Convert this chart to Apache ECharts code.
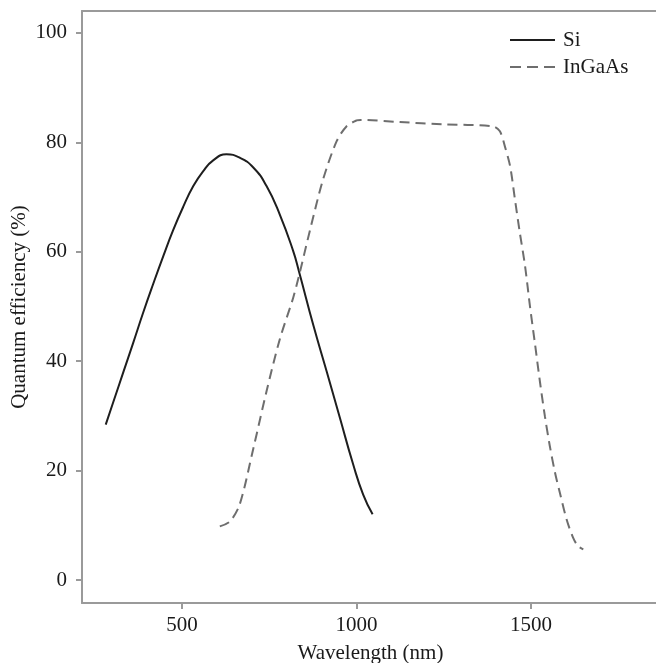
<!DOCTYPE html>
<html>
<head>
<meta charset="utf-8">
<script src="https://cdn.jsdelivr.net/npm/echarts@6/dist/echarts.min.js"></script>
<style>html,body{margin:0;padding:0;background:#fff;}#c{width:656px;height:663px;}</style>
</head>
<body>
<div id="c"></div>
<script>
var siWavelength = [281, 302, 331, 360, 388, 417, 446, 474, 503, 532, 560, 589, 627, 665, 704, 742, 780, 818, 835, 876, 914, 952, 990, 1019, 1046];
var siQE = [28.4, 32.4, 37.9, 43.4, 48.8, 54.1, 59.2, 63.9, 68.2, 72.0, 74.7, 76.7, 77.8, 77.2, 75.4, 72.0, 66.8, 60.2, 56.4, 46.6, 38.2, 29.7, 21.2, 15.6, 12.0];
var ingaasWavelength = [608, 637, 665, 704, 742, 780, 818, 835, 866, 904, 943, 971, 1000, 1012, 1124, 1248, 1392, 1411, 1425, 1440, 1454, 1468, 1483, 1497, 1511, 1526, 1540, 1554, 1569, 1583, 1602, 1621, 1635, 1650];
var ingaasQE = [9.8, 10.7, 13.8, 24.0, 34.5, 44.0, 51.5, 55.6, 63.8, 73.2, 80.2, 82.9, 84.0, 84.1, 83.7, 83.3, 82.9, 82.0, 79.3, 75.7, 69.6, 63.5, 57.4, 50.1, 43.4, 36.1, 29.9, 24.5, 19.6, 15.9, 11.1, 7.7, 6.2, 5.6];
var xTicks = [500, 1000, 1500];
var yTicks = [0, 20, 40, 60, 80, 100];

function pairs(xs, ys) { return xs.map(function (x, i) { return [x, ys[i]]; }); }

var FONT = 'Liberation Serif';
var AXIS = '#9a9a9a';
var TEXT = '#1a1a1a';
var chart = echarts.init(document.getElementById('c'), null, { renderer: 'canvas' });
chart.setOption({
  animation: false,
  backgroundColor: '#ffffff',
  textStyle: { fontFamily: FONT },
  grid: { left: 82, right: -3, top: 11, bottom: 60, show: false, containLabel: false, outerBoundsMode: 'none' },
  legend: {
    orient: 'vertical', left: 510, top: 29.5, padding: 0,
    itemWidth: 45, itemHeight: 2, itemGap: 6,
    textStyle: { fontFamily: FONT, fontSize: 21, color: TEXT, lineHeight: 21, padding: [0, 0, 0, 3] },
    data: [
      { name: 'Si', icon: 'path://M0,0H45V2H0Z' },
      { name: 'InGaAs', icon: 'path://M0,0H11V2H0Z M17,0H28V2H17Z M34,0H45V2H34Z' }
    ]
  },
  xAxis: [{
    type: 'value', min: 213, max: 1867,
    name: 'Wavelength (nm)', nameLocation: 'middle', nameGap: 40, nameMoveOverlap: false,
    nameTextStyle: { fontFamily: FONT, fontSize: 21, color: TEXT },
    axisLine: { show: true, onZero: false, lineStyle: { color: AXIS, width: 2 } },
    axisTick: { show: true, length: 6, customValues: xTicks, lineStyle: { color: AXIS, width: 2 } },
    axisLabel: { customValues: xTicks, margin: 12, fontFamily: FONT, fontSize: 21, color: TEXT,
      formatter: function (v) { return String(v); } },
    splitLine: { show: false }
  }, {
    type: 'value', position: 'top', min: 213, max: 1867,
    axisLine: { show: true, onZero: false, lineStyle: { color: AXIS, width: 2 } },
    axisTick: { show: false }, axisLabel: { show: false }, splitLine: { show: false }
  }],
  yAxis: {
    type: 'value', min: -4.2, max: 104,
    name: 'Quantum efficiency (%)', nameLocation: 'middle', nameGap: 52, nameMoveOverlap: false,
    nameTextStyle: { fontFamily: FONT, fontSize: 21, color: TEXT },
    axisLine: { show: true, onZero: false, lineStyle: { color: AXIS, width: 2 } },
    axisTick: { show: true, length: 6, customValues: yTicks, lineStyle: { color: AXIS, width: 2 } },
    axisLabel: { customValues: yTicks, margin: 15, fontFamily: FONT, fontSize: 21, color: TEXT,
      formatter: function (v) { return String(v); } },
    splitLine: { show: false }
  },
  series: [
    {
      name: 'Si', type: 'line', data: pairs(siWavelength, siQE),
      symbol: 'none', smooth: 0.5,
      lineStyle: { color: '#1e1e1e', width: 2 },
      itemStyle: { color: '#1e1e1e' }
    },
    {
      name: 'InGaAs', type: 'line', data: pairs(ingaasWavelength, ingaasQE),
      symbol: 'none', smooth: 0.3,
      lineStyle: { color: '#6e6e6e', width: 2, type: [10, 6] },
      itemStyle: { color: '#6e6e6e' }
    }
  ]
});
</script>
</body>
</html>
